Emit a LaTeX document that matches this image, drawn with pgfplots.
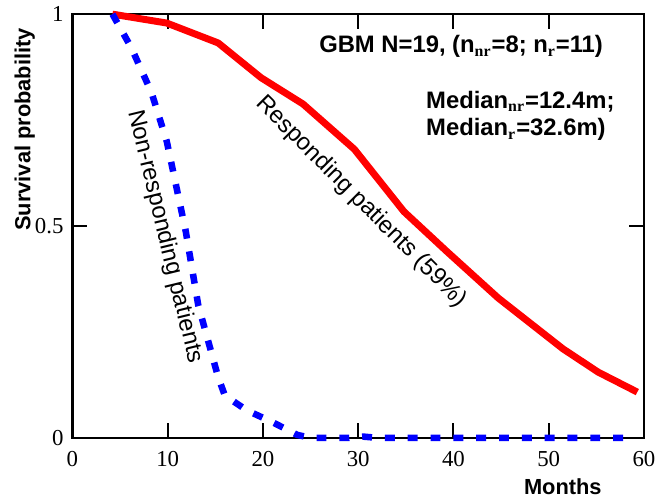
\documentclass[border=0pt]{standalone}
\usepackage{pgfplots}
\pgfplotsset{compat=1.18}
\usepackage{fontspec}
\setmainfont{Liberation Serif}
\newfontfamily\arial{Liberation Sans}
\definecolor{kmred}{RGB}{255,0,0}
\definecolor{kmblue}{RGB}{0,0,255}
\begin{document}
\begin{tikzpicture}
\begin{axis}[
  scale only axis,
  width=288pt, height=213.5pt,
  xmin=0, xmax=60, ymin=0, ymax=1,
  xtick={0,10,20,30,40,50,60},
  ytick={0,0.5,1},
  yticklabels={0,0.5,1},
  axis line style={line width=1.3pt},
  major tick style={line width=1pt, black},
  major tick length=7.5pt,
  tick align=inside,
  /pgf/number format/assume math mode=true,
  ticklabel style={font=\fontsize{11.5}{13}\selectfont},
  xticklabel style={yshift=-3.5pt},
  yticklabel style={xshift=-1pt},
  xlabel={Months},
  xlabel style={font=\arial\bfseries\fontsize{11}{13}\selectfont, at={(axis description cs:0.858,-0.115)}, anchor=center},
  ylabel={Survival probability},
  ylabel style={font=\arial\bfseries\fontsize{11}{13}\selectfont, at={(axis description cs:-0.0835,0.728)}, anchor=center},
  clip=false,
]
\addplot[kmred, line width=3.5pt, line join=round] coordinates {
(4.2,1.0) (9.9,0.979) (15.3,0.932) (19.8,0.85) (24.2,0.788) (29.6,0.681)
(34.8,0.534) (39.3,0.44) (44.7,0.33) (51.5,0.21) (55.2,0.155) (59.3,0.108)
};
\addplot[kmblue, line width=3.3pt, dash pattern=on 5pt off 6.5pt] coordinates {
(4.2,1.0) (6.2,0.92) (8.3,0.815) (9.9,0.70) (11.9,0.487) (13.2,0.314)
(15.3,0.143) (16,0.10) (18.3,0.065) (21,0.037) (23.6,0.007) (25,0)
(29,0) (30.5,0.003) (32,0) (58.8,0)
};
\node[font=\arial\bfseries\fontsize{12}{14}\selectfont] at (axis cs:40.8,0.923) {GBM N=19, (n$_{\mathrm{\bf nr}}$=8; n$_{\mathrm{\bf r}}$=11)};
\node[font=\arial\bfseries\fontsize{12}{14}\selectfont, anchor=west] at (axis cs:36.4,0.794) {Median$_{\mathrm{\bf nr}}$=12.4m;};
\node[font=\arial\bfseries\fontsize{12}{14}\selectfont, anchor=west] at (axis cs:36.4,0.728) {Median$_{\mathrm{\bf r}}$=32.6m)};
\node[font=\arial\fontsize{12}{14}\selectfont, rotate=-45] at (axis cs:30.3,0.557) {Responding patients (59\%)};
\node[font=\arial\fontsize{12}{14}\selectfont, rotate=-76.3] at (axis cs:9.7,0.475) {Non-responding patients};
\end{axis}
\path (current axis.south west) ++(-36.5pt,-29.5pt) (current axis.north east) ++(6pt,7pt);
\end{tikzpicture}
\end{document}
